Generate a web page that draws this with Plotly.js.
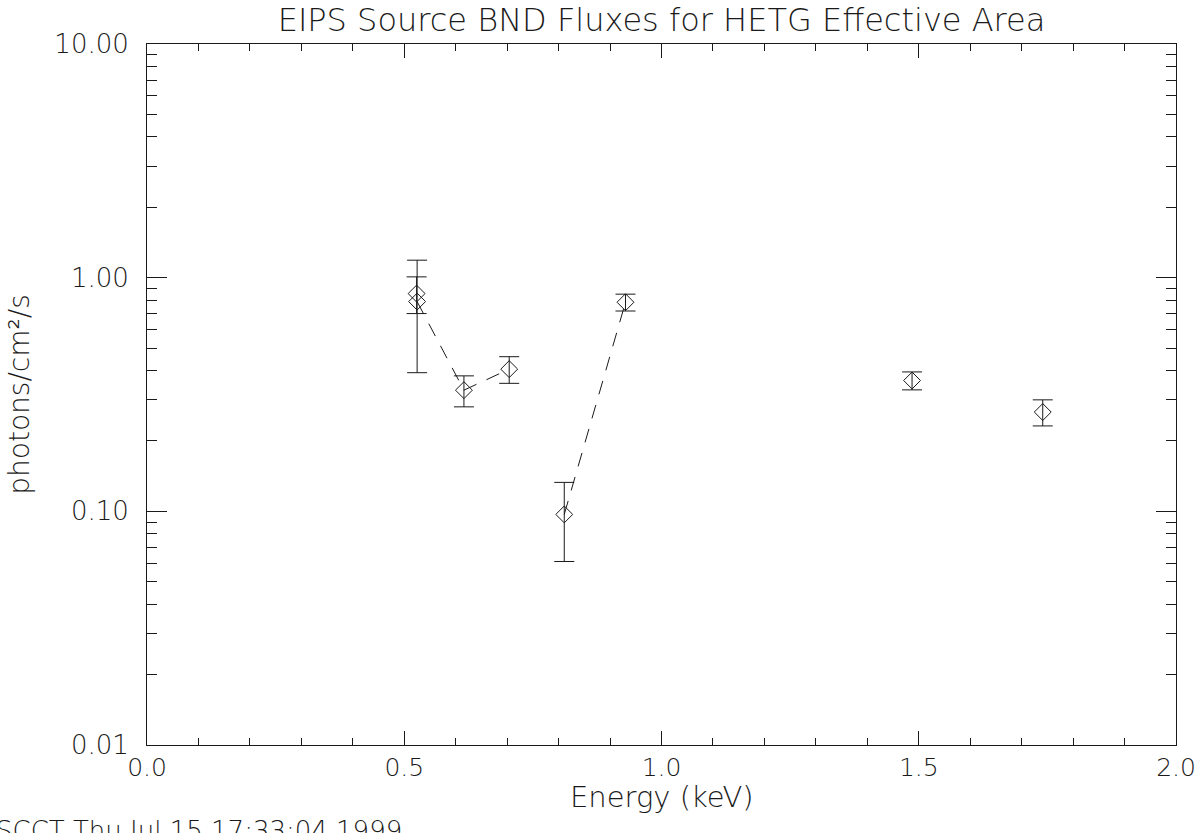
<!DOCTYPE html>
<html>
<head>
<meta charset="utf-8">
<script src="https://cdn.plot.ly/plotly-3.0.1.min.js"></script>
<style>html,body{margin:0;padding:0;background:#fff;}#chart{width:1202px;height:833px;}</style>
</head>
<body>
<div id="chart"></div>
<script>
// Data
var energy = [0.524, 0.525, 0.616, 0.704, 0.811, 0.930, 1.487, 1.741];
var flux = [0.855, 0.790, 0.330, 0.406, 0.097, 0.785, 0.363, 0.266];
var fluxErr = [0.153, 0.398, 0.050, 0.053, 0.036, 0.065, 0.032, 0.034];
// dashed connecting line (two segments)
var lineEnergy = [0.525, 0.616, 0.704, null, 0.811, 0.930];
var lineFlux = [0.790, 0.330, 0.406, null, 0.097, 0.785];

var xMajor = [0, 0.5, 1.0, 1.5, 2.0];
var xMajorText = ['0.0', '0.5', '1.0', '1.5', '2.0'];
var xMinor = [0.1,0.2,0.3,0.4,0.6,0.7,0.8,0.9,1.1,1.2,1.3,1.4,1.6,1.7,1.8,1.9];
var yMajor = [0.01, 0.1, 1, 10];
var yMajorText = ['0.01', '0.10', '1.00', '10.00'];
var yMinor = [0.02,0.03,0.04,0.05,0.06,0.07,0.08,0.09,0.2,0.3,0.4,0.5,0.6,0.7,0.8,0.9,2,3,4,5,6,7,8,9];

var titleText = 'EIPS Source BND Fluxes for HETG Effective Area';
var xTitle = 'Energy (keV)';
var yTitle = 'photons/cm²/s';
var stamp = 'SCCT Thu Jul 15 17:33:04 1999';

var FONT = 'DejaVu Sans';
var INK = '#1a1a1a';
var W = 200;

var traces = [
  {
    x: lineEnergy, y: lineFlux, mode: 'lines', connectgaps: false,
    line: {color: INK, width: 1, dash: '14px,11px'},
    hoverinfo: 'skip', showlegend: false
  },
  {
    x: energy, y: flux, mode: 'markers',
    marker: {symbol: 'diamond-open', size: 13, color: INK, line: {width: 1, color: INK}},
    error_y: {type: 'data', array: fluxErr, visible: true, color: INK, thickness: 1, width: 10},
    showlegend: false
  }
];

var layout = {
  width: 1202, height: 833,
  margin: {l: 147, r: 26, t: 44, b: 88},
  paper_bgcolor: '#fff', plot_bgcolor: '#fff',
  font: {family: FONT, color: INK, size: 25, weight: W},
  showlegend: false,
  title: {text: titleText, x: 0.5, xref: 'paper', xanchor: 'center', y: 1 - 20/833, yref: 'container', yanchor: 'middle',
          font: {family: FONT, size: 32, color: INK, weight: W}},
  xaxis: {
    range: [0, 2], tickvals: xMajor, ticktext: xMajorText,
    ticks: 'inside', ticklen: 14, tickwidth: 1, tickcolor: INK,
    showline: true, linecolor: INK, linewidth: 1, mirror: 'ticks',
    showgrid: false, zeroline: false,
    ticklabelstandoff: 0,
    tickfont: {family: FONT, size: 25, color: INK, weight: W},
    minor: {tickvals: xMinor, ticks: 'inside', ticklen: 7, tickwidth: 1, tickcolor: INK, showgrid: false}
  },
  yaxis: {
    type: 'log', range: [-2, 1], tickvals: yMajor, ticktext: yMajorText,
    ticks: 'inside', ticklen: 20, tickwidth: 1, tickcolor: INK,
    showline: true, linecolor: INK, linewidth: 1, mirror: 'ticks',
    showgrid: false, zeroline: false,
    ticklabelstandoff: 12,
    tickfont: {family: FONT, size: 26, color: INK, weight: W},
    minor: {tickvals: yMinor, ticks: 'inside', ticklen: 10, tickwidth: 1, tickcolor: INK, showgrid: false},
    title: {text: yTitle, standoff: 16, font: {family: FONT, size: 28, color: INK, weight: W}}
  },
  annotations: [
    {text: xTitle, xref: 'paper', yref: 'paper', x: 0.5, y: (745 - 797) / 701, xanchor: 'center', yanchor: 'middle',
     showarrow: false, font: {family: FONT, size: 29, color: INK, weight: W}},
    {text: stamp, xref: 'paper', yref: 'paper', x: -0.1487, y: -0.098, xanchor: 'left', yanchor: 'top',
     showarrow: false, font: {family: FONT, size: 26, color: INK, weight: W}}
  ]
};

Plotly.newPlot('chart', traces, layout, {displayModeBar: false, staticPlot: true});
</script>
</body>
</html>
